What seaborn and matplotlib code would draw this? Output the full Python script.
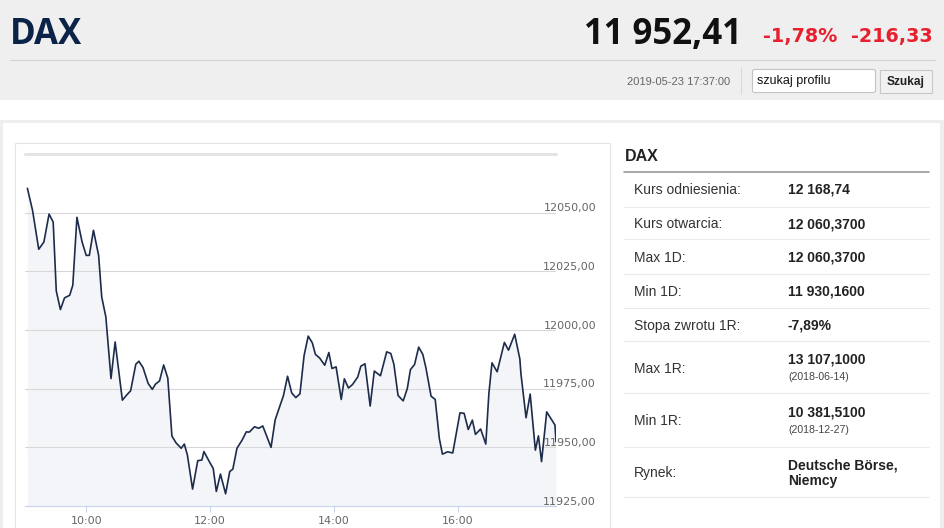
import matplotlib
matplotlib.use('Agg')
import matplotlib.pyplot as plt
import matplotlib.dates as mdates
import matplotlib.transforms as mtransforms
from matplotlib.patches import Rectangle, FancyBboxPatch
from matplotlib.lines import Line2D
import seaborn as sns
import pandas as pd

# intraday DAX quotes, 2019-05-23
times = ['09:03', '09:08', '09:14', '09:19', '09:24', '09:28', '09:31', '09:35', '09:39', '09:44',
         '09:47', '09:51', '09:56', '10:00', '10:03', '10:07', '10:12', '10:15', '10:19', '10:24',
         '10:28', '10:31', '10:35', '10:39', '10:43', '10:48', '10:51', '10:55', '11:00', '11:04',
         '11:07', '11:11', '11:15', '11:19', '11:23', '11:27', '11:32', '11:35', '11:38', '11:43',
         '11:48', '11:52', '11:54', '11:59', '12:03', '12:06', '12:10', '12:15', '12:19', '12:22',
         '12:26', '12:31', '12:35', '12:38', '12:43', '12:47', '12:51', '12:59', '13:03', '13:07',
         '13:11', '13:15', '13:19', '13:23', '13:27', '13:31', '13:35', '13:39', '13:42', '13:46',
         '13:51', '13:55', '13:58', '14:02', '14:07', '14:10', '14:14', '14:18', '14:23', '14:26',
         '14:30', '14:35', '14:39', '14:45', '14:51', '14:55', '14:58', '15:02', '15:07', '15:11',
         '15:14', '15:18', '15:22', '15:26', '15:29', '15:34', '15:38', '15:42', '15:45', '15:50',
         '15:55', '16:02', '16:06', '16:10', '16:14', '16:17', '16:22', '16:27', '16:30', '16:33',
         '16:38', '16:45', '16:49', '16:55', '17:00', '17:01', '17:06', '17:10', '17:15', '17:18',
         '17:21', '17:26', '17:29', '17:34', '17:35']
values = [12060.4, 12051.0, 12034.4, 12037.5, 12049.4, 12046.0, 12016.6, 12008.7, 12013.7, 12014.8,
          12019.1, 12048.0, 12037.5, 12031.8, 12031.8, 12042.5, 12031.8, 12014.1, 12005.6, 11979.3,
          11994.9, 11984.3, 11970.1, 11972.2, 11974.1, 11985.4, 11986.7, 11984.0, 11977.2, 11974.7,
          11976.9, 11978.3, 11985.1, 11979.5, 11954.8, 11951.9, 11949.6, 11951.4, 11946.7, 11932.2,
          11944.3, 11944.6, 11948.2, 11944.1, 11941.0, 11931.2, 11938.6, 11930.2, 11939.7, 11940.7,
          11949.6, 11953.1, 11956.6, 11956.5, 11958.8, 11958.1, 11959.1, 11950.0, 11961.7, 11966.9,
          11972.0, 11980.3, 11973.2, 11971.2, 11972.8, 11989.1, 11997.4, 11994.5, 11989.6, 11988.1,
          11985.0, 11990.4, 11983.6, 11984.3, 11970.4, 11979.2, 11975.3, 11976.8, 11980.0, 11984.6,
          11985.6, 11967.6, 11982.5, 11980.5, 11990.7, 11990.0, 11985.4, 11972.1, 11969.8, 11975.1,
          11983.1, 11985.3, 11992.7, 11989.6, 11983.9, 11971.8, 11970.4, 11953.8, 11947.1, 11948.1,
          11947.6, 11964.7, 11964.5, 11957.6, 11961.6, 11955.5, 11957.8, 11951.4, 11973.0, 11986.0,
          11982.2, 11994.7, 11991.4, 11998.2, 11987.6, 11981.5, 11962.6, 11972.7, 11948.8, 11954.9,
          11943.9, 11965.1, 11963.0, 11959.5, 11952.4]
y_ticks = [11925, 11950, 11975, 12000, 12025, 12050]
y_top = 12075
x_ticks = ['10:00', '12:00', '14:00', '16:00']

index_name = 'DAX'
last_price = '11 952,41'
change_pct = '-1,78%'
change_abs = '-216,33'
timestamp = '2019-05-23 17:37:00'
search_hint = 'szukaj profilu'
search_btn = 'Szukaj'

row_labels = ['Kurs odniesienia:', 'Kurs otwarcia:', 'Max 1D:', 'Min 1D:',
              'Stopa zwrotu 1R:', 'Max 1R:', 'Min 1R:', 'Rynek:']
row_values = ['12 168,74', '12 060,3700', '12 060,3700', '11 930,1600',
              '-7,89%', '13 107,1000', '10 381,5100', 'Deutsche Börse,\nNiemcy']
row_notes = ['', '', '', '', '', '(2018-06-14)', '(2018-12-27)', '']

day = '2019-05-23 '
df = pd.DataFrame({'time': pd.to_datetime([day + t for t in times]), 'value': values})

sns.set_theme(style='white')
plt.rcParams['font.family'] = ['Liberation Sans', 'DejaVu Sans']

W, H = 945, 528
fig = plt.figure(figsize=(W / 100, H / 100), dpi=100)
fig.patch.set_facecolor('white')


def fx(x):
    return x / W


def fy(y):
    return 1 - y / H


def rect(x0, y0, x1, y1, fc, ec='none', lw=0, z=-10):
    fig.add_artist(Rectangle((fx(x0), fy(y1)), fx(x1) - fx(x0), fy(y0) - fy(y1),
                             transform=fig.transFigure, fc=fc, ec=ec, lw=lw, zorder=z))


def line(x0, x1, y0, y1, color, lw):
    fig.add_artist(Line2D([fx(x0), fx(x1)], [fy(y0), fy(y1)], color=color, lw=lw,
                          transform=fig.transFigure, zorder=-2))


def text(x, y, s, **kw):
    fig.text(fx(x), fy(y), s, va='baseline', **kw)


# page background / header
rect(0, 0, W, 100, '#efefef')
rect(0, 120, W, H, '#eeeeee')
rect(3, 123, 940, H + 5, 'white')
line(10, 935, 59.5, 59.5, '#d4d4d4', 0.8)
line(741, 741, 67, 94, '#dadada', 0.8)

text(10, 43.5, index_name, fontsize=25, fontweight='bold', color='#0b2347', family='Open Sans')
text(742, 44, last_price, fontsize=25, fontweight='bold', color='#111111', family='Open Sans', ha='right')
text(837, 42.3, change_pct, fontsize=13.8, fontweight='bold', color='#e8202e', family='DejaVu Sans', ha='right')
text(933, 42.3, change_abs, fontsize=13.8, fontweight='bold', color='#e8202e', family='DejaVu Sans', ha='right')
text(730, 85, timestamp, fontsize=8, color='#666666', ha='right')

fig.add_artist(FancyBboxPatch((fx(752.5), fy(92.5)), fx(875.5) - fx(752.5), fy(69.5) - fy(92.5),
                              boxstyle='round,pad=0,rounding_size=0.003', transform=fig.transFigure,
                              fc='white', ec='#c4c4c4', lw=0.8, zorder=-3))
text(757, 84, search_hint, fontsize=9, color='#111111')
rect(880, 70, 932.5, 92.5, '#f1f1f1', ec='#c8c8c8', lw=0.8, z=-3)
text(906, 85, search_btn, fontsize=8.6, fontweight='bold', color='#222222', ha='center')

# chart frame
rect(15, 143, 609.5, H + 5, 'white', ec='#e4e4e4', lw=0.8, z=-5)

# chart
ax = fig.add_axes([fx(25), fy(506), (556 - 25) / W, (506 - 154) / H])
ax.set_facecolor('none')
ax.fill_between(df['time'], df['value'], y_ticks[0], color='#f3f5f8', lw=0, zorder=1)
for v in y_ticks[1:]:
    ax.axhline(v, color='#d8d8d8', lw=0.8, zorder=2)
ax.axhline(y_top, color='#e4e4e4', lw=2.2, zorder=2, clip_on=False)
sns.lineplot(data=df, x='time', y='value', ax=ax, color='#1e2c4b', linewidth=1.2, zorder=3)

ax.set_ylim(y_ticks[0], y_top)
ax.set_xlim(df['time'].iloc[0] - pd.Timedelta(minutes=2.3), df['time'].iloc[-1])
ax.set_yticks([])
ax.set_xticks(pd.to_datetime([day + t for t in x_ticks]))
ax.xaxis.set_major_formatter(mdates.DateFormatter('%H:%M'))
ax.tick_params(axis='x', length=4.5, width=0.8, color='#ccd6eb', pad=2.5,
               labelsize=8, labelcolor='#666666', bottom=True)
for lab in ax.get_xticklabels():
    lab.set_family('DejaVu Sans')
ax.set_xlabel('')
ax.set_ylabel('')
for s in ['top', 'left', 'right']:
    ax.spines[s].set_visible(False)
ax.spines['bottom'].set_color('#ccd6eb')
ax.spines['bottom'].set_linewidth(0.9)
ax.spines['bottom'].set_zorder(4)

lab_tr = mtransforms.blended_transform_factory(ax.transAxes, ax.transData)
lab_tr = lab_tr + mtransforms.ScaledTranslation(0, 1.2 / 100, fig.dpi_scale_trans)
for v in y_ticks:
    ax.text((596 - 25) / 531, v, f'{v},00', transform=lab_tr, ha='right', va='baseline',
            fontsize=8, color='#666666', family='DejaVu Sans', clip_on=False, zorder=5)

# quote table
text(625, 161, index_name, fontsize=11.5, fontweight='bold', color='#222222')
line(624, 929, 172.3, 172.3, '#9a9a9a', 1.2)
for ys in [206.7, 239.3, 273.7, 307.7, 341.3, 393.3, 446.7, 497.3]:
    line(624, 929, ys, ys, '#ebebeb', 0.8)

label_base = [194, 228, 262, 296, 330, 373, 425, 477]
value_base = [194, 228, 262, 296, 330, 363, 416.5, 469]
for lab, val, note, yl, yv in zip(row_labels, row_values, row_notes, label_base, value_base):
    text(634, yl, lab, fontsize=10, color='#333333')
    parts = val.split('\n')
    for k, p in enumerate(parts):
        text(788, yv + k * 16, p, fontsize=10, fontweight='bold', color='#222222')
    if note:
        text(788, yv + 16.5, note, fontsize=7.6, color='#444444')

fig.savefig('out.png', dpi=100)
